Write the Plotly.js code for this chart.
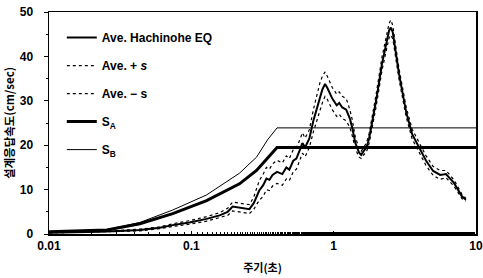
<!DOCTYPE html>
<html><head><meta charset="utf-8">
<script src="https://cdn.plot.ly/plotly-3.0.1.min.js"></script>
<style>html,body{margin:0;padding:0;background:#fff}#c{width:483px;height:278px}</style>
</head><body><div id="c"></div>
<script>
// Period (s) and spectral velocity (cm/sec)
const periodAve = [0.01,0.0165,0.0228,0.0314,0.0435,0.06,0.074,0.097,0.128,0.158,0.18,0.195,0.215,0.229,0.256,0.275,0.30,0.32,0.337,0.354,0.372,0.40,0.436,0.465,0.488,0.52,0.547,0.58,0.603,0.63,0.675,0.72,0.755,0.80,0.832,0.87,0.9,0.978,1.05,1.094,1.15,1.225,1.3,1.349,1.42,1.51,1.56,1.62,1.70,1.774,1.88,1.986,2.19,2.35,2.45,2.52,2.60,2.88,3.23,3.56,3.98,4.46,5.0,5.6,6.15,6.5,7.0,7.96,8.49];
const aveHachinohe = [0.3,0.4,0.5,0.7,0.9,1.4,2.0,2.6,3.4,4.2,5.0,6.2,6.0,5.9,5.6,7.0,9.8,11.0,12.5,12.2,13.3,14.0,13.5,15.0,14.5,16.5,17.0,19.0,20.5,19.5,21.5,25.5,28.0,31.0,32.5,33.8,33.0,30.5,29.0,29.5,28.5,28.0,26.0,24.0,20.5,18.3,17.8,18.6,19.5,21.5,25.5,30.0,38.5,43.5,45.8,46.5,45.5,36.0,27.5,22.5,19.5,16.5,14.2,13.3,13.5,12.6,11.5,8.5,7.7];
const avePlusS = [0.35,0.45,0.6,0.8,1.1,1.6,2.3,3.0,3.9,4.8,5.8,7.2,7.0,6.9,6.6,8.4,12.0,13.5,15.0,14.6,15.8,16.6,16.0,17.6,17.0,19.0,19.4,21.3,22.8,21.6,23.5,28.0,30.8,34.0,35.5,36.5,35.6,33.0,31.5,32.0,31.0,30.5,28.0,25.8,21.8,19.3,18.6,19.4,20.5,22.6,26.8,31.4,40.0,45.0,47.4,48.2,47.0,37.2,28.6,23.6,20.6,17.6,15.2,14.3,14.3,13.4,12.2,9.0,8.0];
const aveMinusS = [0.25,0.35,0.4,0.6,0.7,1.2,1.7,2.2,2.9,3.6,4.2,5.2,5.0,4.9,4.6,5.6,7.6,8.5,10.0,9.8,10.8,11.4,11.0,12.4,12.0,14.0,14.6,16.7,18.2,17.4,19.5,23.0,25.2,28.0,29.5,31.0,30.4,28.0,26.5,27.0,26.0,25.5,24.0,22.2,19.2,17.3,17.0,17.8,18.5,20.4,24.2,28.6,37.0,42.0,44.2,44.8,44.0,34.8,26.4,21.4,18.4,15.4,13.2,12.3,12.7,11.8,10.8,8.0,7.4];
const periodSA = [0.01,0.0255,0.0435,0.074,0.128,0.218,0.287,0.372,0.40,10];
const specSA = [0.5,0.9,2.3,4.6,7.5,11.3,14.3,18.2,19.5,19.5];
const periodSB = [0.01,0.0255,0.0435,0.074,0.128,0.218,0.287,0.343,0.40,10];
const specSB = [0.5,1.0,2.6,5.4,8.8,13.7,17.3,21.2,23.9,23.9];
const xTickVals = [0.01,0.1,1,10];
const xTickText = ['0.01','0.1','1','10'];

const F = 'Liberation Sans, Arial, sans-serif';
const traces = [
  {x: periodAve, y: aveHachinohe, name: 'Ave. Hachinohe EQ', mode: 'lines', line: {color: '#000', width: 2}, legendgroup: 'a'},
  {x: periodAve, y: avePlusS, name: 'Ave. + <i>s</i>', mode: 'lines', line: {color: '#000', width: 1.2, dash: 'dot'}, legendgroup: 'b'},
  {x: periodAve, y: aveMinusS, name: 'Ave. − s', mode: 'lines', line: {color: '#000', width: 1.2, dash: 'dot'}, legendgroup: 'c'},
  {x: periodSA, y: specSA, name: 'S<sub>A</sub>', mode: 'lines', line: {color: '#000', width: 3}, legendgroup: 'd'},
  {x: periodSB, y: specSB, name: 'S<sub>B</sub>', mode: 'lines', line: {color: '#000', width: 1}, legendgroup: 'e'}
];
const layout = {
  width: 483, height: 278,
  margin: {l: 49, r: 7, t: 12, b: 44},
  paper_bgcolor: '#fff', plot_bgcolor: '#fff',
  font: {family: F, size: 11, color: '#000'},
  showlegend: true,
  legend: {x: 0.03, y: 0.95, xanchor: 'left', yanchor: 'top', bgcolor: 'rgba(0,0,0,0)',
    font: {family: F, size: 12, color: '#000', weight: 'bold'}, tracegroupgap: 9, itemwidth: 30},
  xaxis: {type: 'log', range: [-2, 1], tickvals: xTickVals, ticktext: xTickText,
    showgrid: false, zeroline: false, showline: true, linecolor: '#000', linewidth: 1.5, mirror: true,
    ticks: 'inside', ticklen: 3, tickcolor: '#000',
    minor: {ticks: 'inside', ticklen: 2, tickcolor: '#000', showgrid: false},
    tickfont: {family: F, size: 12, weight: 'bold'},
    title: {text: '주기(초)', font: {family: 'Noto Sans CJK KR', size: 11, weight: 'bold'}, standoff: 12}},
  yaxis: {range: [0, 50], dtick: 10, showgrid: false, zeroline: false, showline: true, linecolor: '#000', linewidth: 1.5, mirror: true,
    ticks: 'outside', ticklen: 4, tickcolor: '#000', ticklabelstandoff: 8,
    minor: {dtick: 5, ticks: 'outside', ticklen: 2, tickcolor: '#000', showgrid: false},
    tickfont: {family: F, size: 12, weight: 'bold'},
    title: {text: '설계응답속도(cm/sec)', font: {family: 'Noto Sans CJK KR', size: 11.5, weight: 'bold'}, standoff: 2}}
};
Plotly.newPlot('c', traces, layout, {displayModeBar: false, staticPlot: true});
</script></body></html>
